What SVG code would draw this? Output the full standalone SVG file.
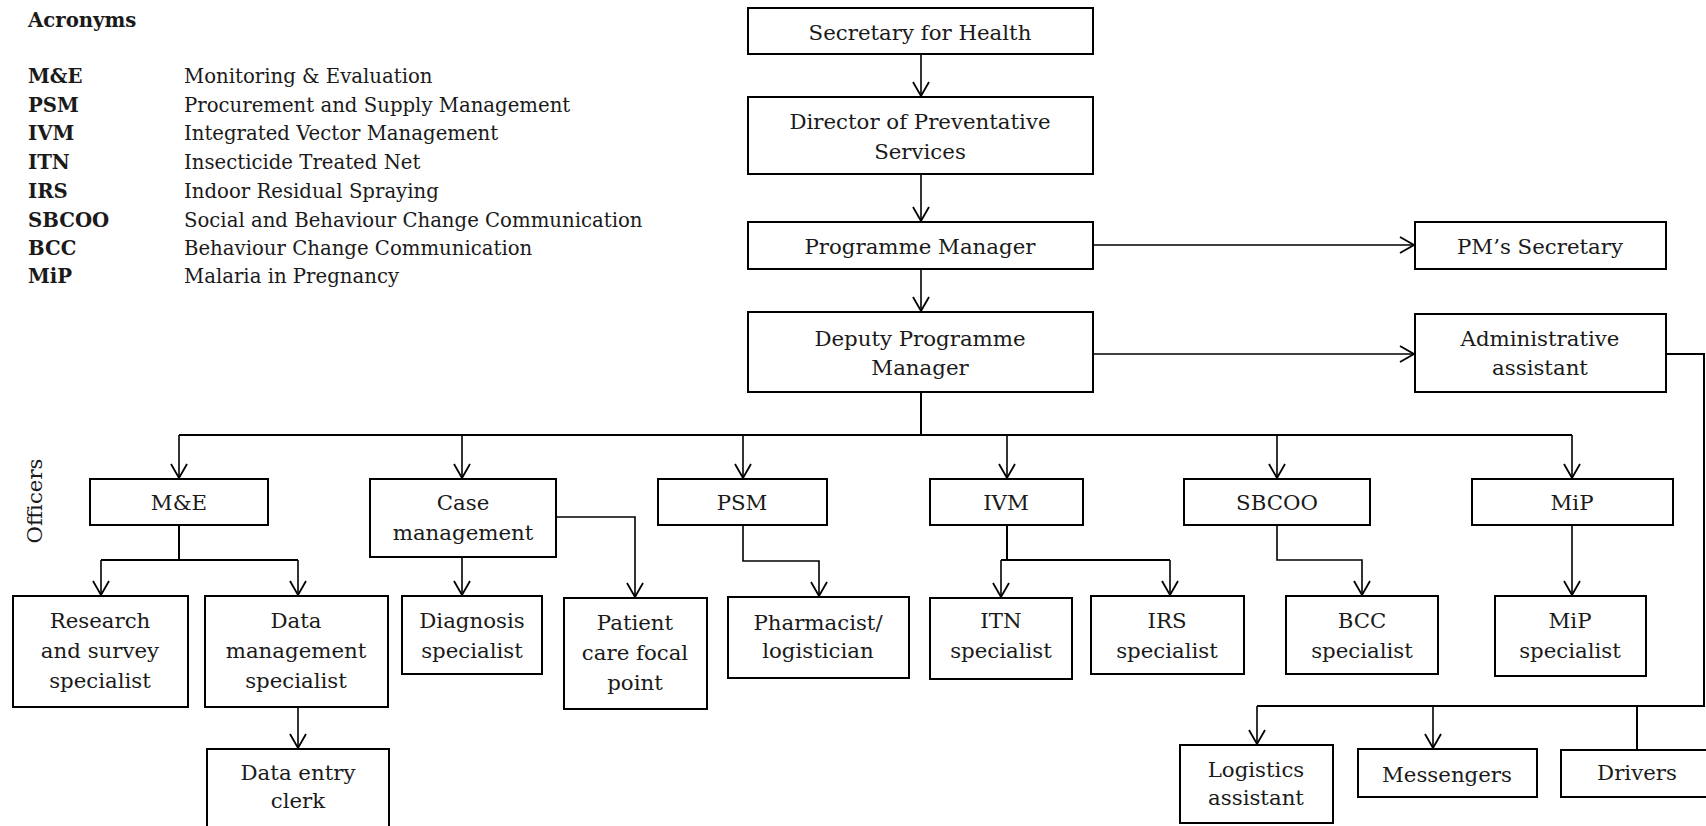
<svg xmlns="http://www.w3.org/2000/svg" width="1706" height="826" viewBox="0 0 1706 826">
<style>
text{font-family:"DejaVu Serif","Liberation Serif",serif;font-size:21.3px;fill:#1a1a1a}
.c{text-anchor:middle}
.b{font-weight:bold}
.a{font-size:19.7px}
.box{fill:#fff;stroke:#000;stroke-width:2}
.ln{fill:none;stroke:#000;stroke-width:2}
.ar{fill:none;stroke:#000;stroke-width:1.6;marker-end:url(#arr)}
</style>
<defs>
<marker id="arr" markerUnits="userSpaceOnUse" markerWidth="18" markerHeight="20" viewBox="0 0 18 20" refX="16" refY="10" orient="auto">
<path d="M2,2 L16,10 L2,18" fill="none" stroke="#000" stroke-width="1.8"/>
</marker>
</defs>
<rect width="1706" height="826" fill="#fff"/>
<g id="acronyms">
<text x="28" y="27" class="b a">Acronyms</text>
<text x="28" y="83" class="b a">M&amp;E</text><text class="a" x="184" y="83">Monitoring &amp; Evaluation</text>
<text x="28" y="112" class="b a">PSM</text><text class="a" x="184" y="112">Procurement and Supply Management</text>
<text x="28" y="140" class="b a">IVM</text><text class="a" x="184" y="140">Integrated Vector Management</text>
<text x="28" y="169" class="b a">ITN</text><text class="a" x="184" y="169">Insecticide Treated Net</text>
<text x="28" y="198" class="b a">IRS</text><text class="a" x="184" y="198">Indoor Residual Spraying</text>
<text x="28" y="227" class="b a">SBCOO</text><text class="a" x="184" y="227">Social and Behaviour Change Communication</text>
<text x="28" y="255" class="b a">BCC</text><text class="a" x="184" y="255">Behaviour Change Communication</text>
<text x="28" y="283" class="b a">MiP</text><text class="a" x="184" y="283">Malaria in Pregnancy</text>
</g>
<text x="42" y="501" class="c" transform="rotate(-90 42 501)">Officers</text>
<g id="connectors">
<line class="ar" x1="921" y1="54" x2="921" y2="96"/>
<line class="ar" x1="921" y1="174" x2="921" y2="221"/>
<line class="ar" x1="921" y1="269" x2="921" y2="311"/>
<line class="ar" x1="1093" y1="245" x2="1414" y2="245"/>
<line class="ar" x1="1093" y1="354" x2="1414" y2="354"/>
<polyline class="ln" points="921,392 921,435"/>
<line class="ln" x1="179" y1="435" x2="1572" y2="435"/>
<line class="ar" x1="179" y1="435" x2="179" y2="478"/>
<line class="ar" x1="462" y1="435" x2="462" y2="478"/>
<line class="ar" x1="743" y1="435" x2="743" y2="478"/>
<line class="ar" x1="1007" y1="435" x2="1007" y2="478"/>
<line class="ar" x1="1277" y1="435" x2="1277" y2="478"/>
<line class="ar" x1="1572" y1="435" x2="1572" y2="478"/>
<polyline class="ln" points="179,525 179,560"/>
<line class="ln" x1="101" y1="560" x2="298" y2="560"/>
<line class="ar" x1="101" y1="560" x2="101" y2="595"/>
<line class="ar" x1="298" y1="560" x2="298" y2="595"/>
<line class="ar" x1="298" y1="707" x2="298" y2="748"/>
<line class="ar" x1="462" y1="557" x2="462" y2="595"/>
<polyline class="ar" points="556,517 635,517 635,597"/>
<polyline class="ar" points="743,525 743,561 819,561 819,596"/>
<polyline class="ln" points="1007,525 1007,560"/>
<line class="ln" x1="1001" y1="560" x2="1170" y2="560"/>
<line class="ar" x1="1001" y1="560" x2="1001" y2="597"/>
<line class="ar" x1="1170" y1="560" x2="1170" y2="595"/>
<polyline class="ar" points="1277,525 1277,560 1362,560 1362,595"/>
<line class="ar" x1="1572" y1="525" x2="1572" y2="595"/>
<polyline class="ln" points="1666,354 1704,354 1704,706 1257,706"/>
<line class="ar" x1="1257" y1="706" x2="1257" y2="744"/>
<line class="ar" x1="1433" y1="706" x2="1433" y2="748"/>
<line class="ln" x1="1637" y1="706" x2="1637" y2="750"/>
</g>
<g id="n-secretary"><rect class="box" x="748" y="8" width="345" height="46"/><text class="c" x="920" y="40">Secretary for Health</text></g>
<g id="n-director"><rect class="box" x="748" y="97" width="345" height="77"/><text class="c" x="920" y="129">Director of Preventative</text><text class="c" x="920" y="159">Services</text></g>
<g id="n-pm"><rect class="box" x="748" y="222" width="345" height="47"/><text class="c" x="920" y="254">Programme Manager</text></g>
<g id="n-deputy"><rect class="box" x="748" y="312" width="345" height="80"/><text class="c" x="920" y="346">Deputy Programme</text><text class="c" x="920" y="375">Manager</text></g>
<g id="n-pmsec"><rect class="box" x="1415" y="222" width="251" height="47"/><text class="c" x="1540" y="254">PM’s Secretary</text></g>
<g id="n-admin"><rect class="box" x="1415" y="314" width="251" height="78"/><text class="c" x="1540" y="346">Administrative</text><text class="c" x="1540" y="375">assistant</text></g>
<g id="n-me"><rect class="box" x="90" y="479" width="178" height="46"/><text class="c" x="179" y="510">M&amp;E</text></g>
<g id="n-case"><rect class="box" x="370" y="479" width="186" height="78"/><text class="c" x="463" y="510">Case</text><text class="c" x="463" y="540">management</text></g>
<g id="n-psm"><rect class="box" x="658" y="479" width="169" height="46"/><text class="c" x="742" y="510">PSM</text></g>
<g id="n-ivm"><rect class="box" x="930" y="479" width="153" height="46"/><text class="c" x="1006" y="510">IVM</text></g>
<g id="n-sbcoo"><rect class="box" x="1184" y="479" width="186" height="46"/><text class="c" x="1277" y="510">SBCOO</text></g>
<g id="n-mip"><rect class="box" x="1472" y="479" width="201" height="46"/><text class="c" x="1572" y="510">MiP</text></g>
<g id="n-research"><rect class="box" x="13" y="596" width="175" height="111"/><text class="c" x="100" y="628">Research</text><text class="c" x="100" y="658">and survey</text><text class="c" x="100" y="688">specialist</text></g>
<g id="n-datamgmt"><rect class="box" x="205" y="596" width="183" height="111"/><text class="c" x="296" y="628">Data</text><text class="c" x="296" y="658">management</text><text class="c" x="296" y="688">specialist</text></g>
<g id="n-dataentry"><rect class="box" x="207" y="749" width="182" height="90"/><text class="c" x="298" y="780">Data entry</text><text class="c" x="298" y="808">clerk</text></g>
<g id="n-diagnosis"><rect class="box" x="402" y="596" width="140" height="78"/><text class="c" x="472" y="628">Diagnosis</text><text class="c" x="472" y="658">specialist</text></g>
<g id="n-patient"><rect class="box" x="564" y="598" width="143" height="111"/><text class="c" x="635" y="630">Patient</text><text class="c" x="635" y="660">care focal</text><text class="c" x="635" y="690">point</text></g>
<g id="n-pharm"><rect class="box" x="728" y="597" width="181" height="81"/><text class="c" x="818" y="630">Pharmacist/</text><text class="c" x="818" y="658">logistician</text></g>
<g id="n-itn"><rect class="box" x="930" y="598" width="142" height="81"/><text class="c" x="1001" y="628">ITN</text><text class="c" x="1001" y="658">specialist</text></g>
<g id="n-irs"><rect class="box" x="1091" y="596" width="153" height="78"/><text class="c" x="1167" y="628">IRS</text><text class="c" x="1167" y="658">specialist</text></g>
<g id="n-bcc"><rect class="box" x="1286" y="596" width="152" height="78"/><text class="c" x="1362" y="628">BCC</text><text class="c" x="1362" y="658">specialist</text></g>
<g id="n-mipspec"><rect class="box" x="1495" y="596" width="151" height="80"/><text class="c" x="1570" y="628">MiP</text><text class="c" x="1570" y="658">specialist</text></g>
<g id="n-logistics"><rect class="box" x="1180" y="745" width="153" height="78"/><text class="c" x="1256" y="777">Logistics</text><text class="c" x="1256" y="805">assistant</text></g>
<g id="n-messengers"><rect class="box" x="1358" y="749" width="179" height="48"/><text class="c" x="1447" y="782">Messengers</text></g>
<g id="n-drivers"><rect class="box" x="1561" y="750" width="160" height="47"/><text class="c" x="1637" y="780">Drivers</text></g>
</svg>
